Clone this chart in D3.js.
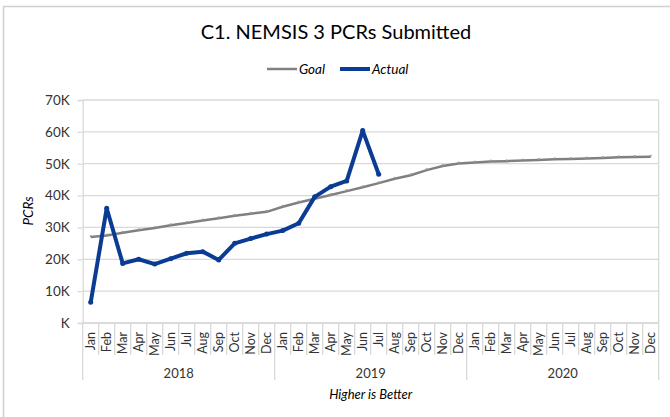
<!DOCTYPE html>
<html>
<head>
<meta charset="utf-8">
<script src="https://cdn.jsdelivr.net/npm/d3@7"></script>
<style>
  body { margin: 0; background: #fff; }
  text { font-family: Lato, "Open Sans", sans-serif; fill: #404040; }
</style>
</head>
<body>
<div id="chart"></div>
<script>
// data
var years = ["2018", "2019", "2020"];
var months = ["Jan","Feb","Mar","Apr","May","Jun","Jul","Aug","Sep","Oct","Nov","Dec"];
var goal = [27000, 27500, 28300, 29100, 29800, 30700, 31400, 32200, 32900, 33700, 34300, 34900,
            36500, 37800, 39000, 40200, 41400, 42600, 43900, 45300, 46400, 48000, 49300, 50100,
            50400, 50700, 50800, 51000, 51200, 51400, 51500, 51600, 51800, 52000, 52100, 52200];
var actual = [6500, 36000, 18700, 20000, 18500, 20200, 21900, 22400, 19800, 25000, 26500, 27900,
              29000, 31300, 39600, 42800, 44600, 60400, 46700];
var yTicks = [0, 10000, 20000, 30000, 40000, 50000, 60000, 70000];

// set the dimensions and margins of the graph
var W = 670, H = 417;
var margin = {top: 100, right: 12, bottom: 94, left: 82.7},
    width = 658.7 - margin.left,
    height = 323 - margin.top;

var svg = d3.select("#chart")
            .append("svg")
            .attr("width", W)
            .attr("height", H);

// outer chart frame
svg.append("path")
   .attr("d", `M3.5,${H} V6.5 H${W}`)
   .attr("fill", "none")
   .attr("stroke", "#d0d0d0")
   .attr("stroke-width", 1.5);

// title and legend
svg.append("text")
   .attr("x", 336).attr("y", 39)
   .attr("text-anchor", "middle")
   .style("font-size", "20px")
   .style("fill", "#000")
   .text("C1. NEMSIS 3 PCRs Submitted");

var legend = [
  {name: "Goal", color: "#808080", w: 2.5, x: 267},
  {name: "Actual", color: "#0b3c94", w: 4, x: 340}
];
var lg = svg.selectAll(".lg").data(legend).enter().append("g")
            .attr("class", "lg")
            .attr("transform", d => `translate(${d.x},69)`);
lg.append("line").attr("x1", 0).attr("x2", 30)
  .attr("stroke", d => d.color).attr("stroke-width", d => d.w);
lg.append("text").attr("x", 32).attr("dy", "0.35em")
  .style("font-size", "13.5px").style("font-style", "italic")
  .style("fill", "#000")
  .text(d => d.name);

var g = svg.append("g")
           .attr("transform", `translate(${margin.left},${margin.top})`);

// scales
var labels = [];
years.forEach(yr => months.forEach(m => labels.push(yr + "-" + m)));

var x = d3.scaleBand().domain(labels).range([0, width]);
var y = d3.scaleLinear().domain([0, 70000]).range([height, 0]);

// grid lines
g.selectAll(".grid").data(yTicks).enter().append("line")
  .attr("x1", 0).attr("x2", width)
  .attr("y1", d => y(d)).attr("y2", d => y(d))
  .attr("stroke", "#d9d9d9").attr("stroke-width", 1.3);

// plot border
g.append("line").attr("x1", width).attr("x2", width).attr("y1", 0).attr("y2", height)
  .attr("stroke", "#d9d9d9").attr("stroke-width", 1.3);

// Y axis
var yAxis = d3.axisLeft(y)
              .tickValues(yTicks)
              .tickSize(5)
              .tickPadding(8)
              .tickFormat(d => (d / 1000 ? d / 1000 : "") + "K");
var ya = g.append("g").call(yAxis);
ya.select(".domain").attr("stroke", "#d9d9d9").attr("stroke-width", 1.3);
ya.selectAll(".tick line").attr("stroke", "#d9d9d9").attr("stroke-width", 1.3);
ya.selectAll("text").style("font-size", "13.5px").style("fill", "#333")
  .style("font-family", "Lato, sans-serif");

svg.append("text")
   .attr("transform", "translate(33,211)rotate(-90)")
   .attr("text-anchor", "middle")
   .style("font-size", "13.5px").style("font-style", "italic")
   .style("fill", "#000")
   .text("PCRs");

// X axis: months, dividers, years
var xa = g.append("g").attr("transform", `translate(0,${height})`);
xa.append("line").attr("x1", 0).attr("x2", width)
  .attr("stroke", "#d9d9d9").attr("stroke-width", 1.3);

xa.selectAll(".mdiv").data(labels).enter().append("line")
  .attr("x1", d => x(d)).attr("x2", d => x(d))
  .attr("y1", 0).attr("y2", (d, i) => i % 12 === 0 ? 57 : 32)
  .attr("stroke", "#d9d9d9").attr("stroke-width", 1.3);
xa.append("line").attr("x1", width).attr("x2", width).attr("y1", 0).attr("y2", 57)
  .attr("stroke", "#d9d9d9").attr("stroke-width", 1.3);

xa.selectAll(".mlab").data(labels).enter().append("text")
  .attr("transform", d => `translate(${x(d) + x.bandwidth() / 2},9)rotate(-90)`)
  .attr("text-anchor", "end")
  .attr("dy", "0.36em")
  .style("font-size", "12.5px")
  .style("fill", "#333")
  .text(d => d.split("-")[1]);

xa.selectAll(".ylab").data(years).enter().append("text")
  .attr("x", d => x(d + "-Jan") + x.bandwidth() * 6)
  .attr("y", 55)
  .attr("text-anchor", "middle")
  .style("font-size", "13px")
  .style("fill", "#333")
  .text(d => d);

svg.append("text")
   .attr("x", margin.left + width / 2).attr("y", 399)
   .attr("text-anchor", "middle")
   .style("font-size", "13px").style("font-style", "italic")
   .style("fill", "#000")
   .text("Higher is Better");

// lines
var line = d3.line()
             .x((d, i) => x(labels[i]) + x.bandwidth() / 2)
             .y(d => y(d));

g.append("path").datum(goal)
  .attr("d", line)
  .attr("fill", "none").attr("stroke", "#808080").attr("stroke-width", 2.5);
g.selectAll(".gdot").data(goal).enter().append("circle")
  .attr("cx", (d, i) => x(labels[i]) + x.bandwidth() / 2)
  .attr("cy", d => y(d) - 1)
  .attr("r", 1).attr("fill", "#9a9a9a");

g.append("path").datum(actual)
  .attr("d", line)
  .attr("fill", "none").attr("stroke", "#0b3c94").attr("stroke-width", 4)
  .attr("stroke-linejoin", "round");
g.selectAll(".adot").data(actual).enter().append("circle")
  .attr("cx", (d, i) => x(labels[i]) + x.bandwidth() / 2)
  .attr("cy", d => y(d))
  .attr("r", 2.5).attr("fill", "#0b3c94");
</script>
</body>
</html>
